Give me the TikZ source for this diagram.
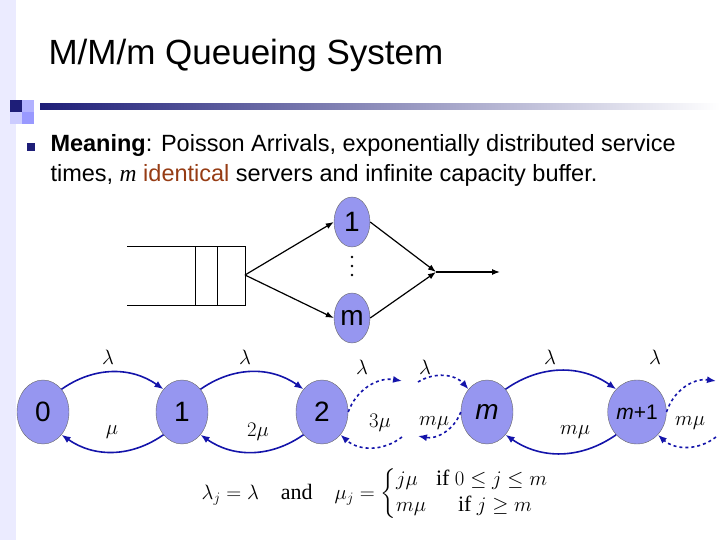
\documentclass[tikz,border=0pt]{standalone}
\usepackage{fontspec}
\usepackage{amsmath}
\setmainfont{Liberation Sans}
\newfontfamily\timesfam{Liberation Serif}
\usetikzlibrary{arrows.meta,shapes.geometric}
\definecolor{stateblue}{RGB}{150,150,240}
\definecolor{arcblue}{RGB}{20,20,170}
\definecolor{barblue}{RGB}{30,30,120}
\definecolor{brownred}{RGB}{150,60,20}
\tikzset{
  state/.style={ellipse,draw=black!60,fill=stateblue,minimum width=52pt,minimum height=64pt,inner sep=0pt,font=\fontsize{28}{28}\selectfont},
  server/.style={ellipse,draw=black!60,fill=stateblue,minimum width=36pt,minimum height=50pt,inner sep=0pt,font=\fontsize{28}{28}\selectfont},
  trans/.style={draw=arcblue,line width=1.6pt,-{Latex[length=9pt,width=7pt]}},
  dtrans/.style={trans,dashed},
  flow/.style={draw=black,line width=1.2pt,-{Latex[length=8pt,width=6pt]}},
  rate/.style={font=\fontsize{21}{21}\selectfont\rmfamily}
}
\begin{document}
\begin{tikzpicture}[x=1pt,y=-1pt]
\useasboundingbox (0,0) rectangle (720,540);
% slide decoration
\fill[blue!8] (0,0) rectangle (16,540);
\shade[left color=barblue,right color=white] (40,104) rectangle (720,110);
\fill[barblue] (10,100) rectangle (22,112);
\fill[blue!30] (22,100) rectangle (34,112);
\fill[blue!20] (10,112) rectangle (22,124);
\fill[blue!40] (22,112) rectangle (34,124);
\node[anchor=west,font=\fontsize{35}{35}\selectfont] (title) at (45,55) {M/M/m Queueing System};
\fill[barblue] (27,143) rectangle (35,151);
\node[anchor=west,font=\fontsize{23.5}{23.5}\selectfont] (line1) at (47,145) {\textbf{Meaning}: Poisson Arrivals, exponentially distributed service};
\node[anchor=west,font=\fontsize{23.5}{23.5}\selectfont] (line2) at (47,175) {times, {\timesfam\itshape m} \textcolor{brownred}{identical} servers and infinite capacity buffer.};
% queue and servers
\draw[line width=0.8pt] (127,246) -- (245,246) -- (245,305) -- (127,305);
\draw[line width=0.8pt] (195,246) -- (195,305) (217,246) -- (217,305);
\coordinate (qout) at (245,275);
\coordinate (merge) at (436,272);
\coordinate (exit) at (500,272);
\node[server] (s1) at (352,222) {1};
\node[server] (sm) at (352,318) {m};
\node[inner sep=0pt] (dots) at (352,266) {\tikz[x=1pt,y=1pt]{\foreach \k in {0,9,18}{\fill (0,\k) circle (1.3);}}};
\draw[flow] (qout) -- (s1.west);
\draw[flow] (qout) -- (sm.west);
\draw[flow] (s1.east) -- (merge);
\draw[flow] (sm.east) -- (merge);
\draw[flow] (merge) -- (exit);
% birth-death chain
\node[state] (n0) at (43,412) {0};
\node[state] (n1) at (182,412) {1};
\node[state] (n2) at (322,412) {2};
\node[state] (nm) at (487,412) {\textit{m}};
\node[state,font=\fontsize{21}{21}\selectfont] (nm1) at (637,412) {\textit{m}+1};
\coordinate (o2) at (402,381);
\coordinate (i2) at (402,437);
\coordinate (om) at (418,382);
\coordinate (im) at (418,436);
\coordinate (o3) at (716,381);
\coordinate (i3) at (716,437);
\draw[trans] (n0.north east) to[bend left=35] (n1.north west);
\draw[trans] (n1.south west) to[bend left=35] (n0.south east);
\draw[trans] (n1.north east) to[bend left=35] (n2.north west);
\draw[trans] (n2.south west) to[bend left=35] (n1.south east);
\draw[trans] (nm.north east) to[bend left=35] (nm1.north west);
\draw[trans] (nm1.south west) to[bend left=35] (nm.south east);
\draw[dtrans] (n2.east) to[bend left=40] (o2);
\draw[dtrans] (i2) to[bend left=40] (n2.south east);
\draw[dtrans] (om) to[bend left=40] (nm.north west);
\draw[dtrans] (nm.west) to[bend left=40] (im);
\draw[dtrans] (nm1.east) to[bend left=40] (o3);
\draw[dtrans] (i3) to[bend left=40] (nm1.south east);
\node[rate] (l01) at (108,357) {$\lambda$};
\node[rate] (l12) at (245,357) {$\lambda$};
\node[rate] (l2) at (362,367) {$\lambda$};
\node[rate] (lm) at (425,367) {$\lambda$};
\node[rate] (lmm) at (550,357) {$\lambda$};
\node[rate] (l3) at (655,357) {$\lambda$};
\node[rate] (m10) at (112,432) {$\mu$};
\node[rate] (m21) at (258,432) {$2\mu$};
\node[rate] (m3) at (380,423) {$3\mu$};
\node[rate] (mm) at (434,423) {$m\mu$};
\node[rate] (mmm) at (575,432) {$m\mu$};
\node[rate] (m4) at (690,423) {$m\mu$};
\node[font=\fontsize{22}{22}\selectfont\timesfam] (eq) at (375,494)
  {$\lambda_j=\lambda\quad\text{and}\quad\mu_j=\left\{\begin{array}{@{}ll@{}}j\mu & \text{if } 0\le j\le m\\[4pt] m\mu & \quad\text{if } j\ge m\end{array}\right.$};
\end{tikzpicture}
\end{document}
